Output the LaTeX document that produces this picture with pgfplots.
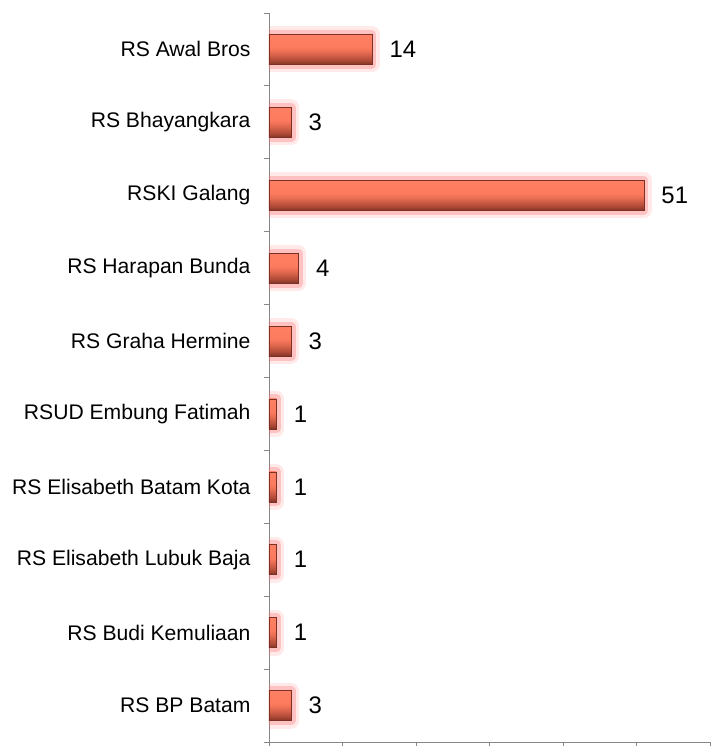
\documentclass[border=0pt]{standalone}
\usepackage{fontspec}
\setmainfont{Liberation Sans}
\usepackage{pgfplots}
\usepackage{pgfplotstable}
\pgfplotsset{compat=1.18}
\definecolor{axisgrey}{HTML}{868686}
\definecolor{barline}{HTML}{7A3022}
\definecolor{glow}{HTML}{FF6A6A}
\pgfdeclareverticalshading{barshade}{100bp}{%
  color(0bp)=(rgb,255:red,130;green,52;blue,38);
  color(25bp)=(rgb,255:red,130;green,52;blue,38);
  color(32bp)=(rgb,255:red,176;green,74;blue,56);
  color(45bp)=(rgb,255:red,229;green,107;blue,81);
  color(53bp)=(rgb,255:red,252;green,122;blue,94);
  color(75bp)=(rgb,255:red,255;green,128;blue,100);
  color(100bp)=(rgb,255:red,255;green,128;blue,100)}
\pgfplotstableread{
y v
9 14
8 3
7 51
6 4
5 3
4 1
3 1
2 1
1 1
0 3
}\data
\pgfplotsset{
  mybar/.style={xbar, bar width=30bp, bar shift=0pt, draw=barline, line width=0.6bp,
    shading=barshade, shading angle=0,
    nodes near coords,
    nodes near coords style={font=\fontsize{24}{24}\selectfont, anchor=west, xshift=14bp, text=black}},
}
\begin{document}
\begin{tikzpicture}
\begin{axis}[
  name=ax,
  scale only axis,
  width=441bp, height=729bp,
  xmin=0, xmax=60, ymin=-0.5, ymax=9.5,
  axis lines*=left,
  axis line style={draw=axisgrey, line width=0.9bp},
  xtick={0,10,...,60}, xticklabels={},
  ytick={-0.5,0.5,...,9.5}, yticklabels={},
  tick align=outside,
  major tick length=5bp,
  tick style={draw=axisgrey, line width=0.9bp},
  extra y ticks={0,1,2,3,4,5,6,7,8,9},
  extra y tick labels={RS BP Batam,RS Budi Kemuliaan,RS Elisabeth Lubuk Baja,RS Elisabeth Batam Kota,RSUD Embung Fatimah,RS Graha Hermine,RS Harapan Bunda,RSKI Galang,RS Bhayangkara,RS Awal Bros},
  extra y tick style={major tick length=0pt, tick style={draw=none},
    yticklabel style={font=\fontsize{21.2}{22}\selectfont, xshift=-15bp}},
  /pgf/number format/assume math mode=true,
]
\addplot[xbar, bar width=30bp, bar shift=0pt, draw=glow, line width=16bp, line join=round, opacity=0.15, fill=none] table[x=v,y=y] {\data};
\addplot[xbar, bar width=30bp, bar shift=0pt, draw=glow, line width=9bp, line join=round, opacity=0.3, fill=none] table[x=v,y=y] {\data};
\addplot[mybar] coordinates {(14,9)};
\addplot[mybar] coordinates {(3,8)};
\addplot[mybar] coordinates {(51,7)};
\addplot[mybar] coordinates {(4,6)};
\addplot[mybar] coordinates {(3,5)};
\addplot[mybar] coordinates {(1,4)};
\addplot[mybar] coordinates {(1,3)};
\addplot[mybar] coordinates {(1,2)};
\addplot[mybar] coordinates {(1,1)};
\addplot[mybar] coordinates {(3,0)};
\end{axis}
\pgfresetboundingbox
\path ([xshift=-269bp,yshift=-4bp]ax.south west) rectangle ([xshift=5bp,yshift=13bp]ax.north east);
\end{tikzpicture}
\end{document}
